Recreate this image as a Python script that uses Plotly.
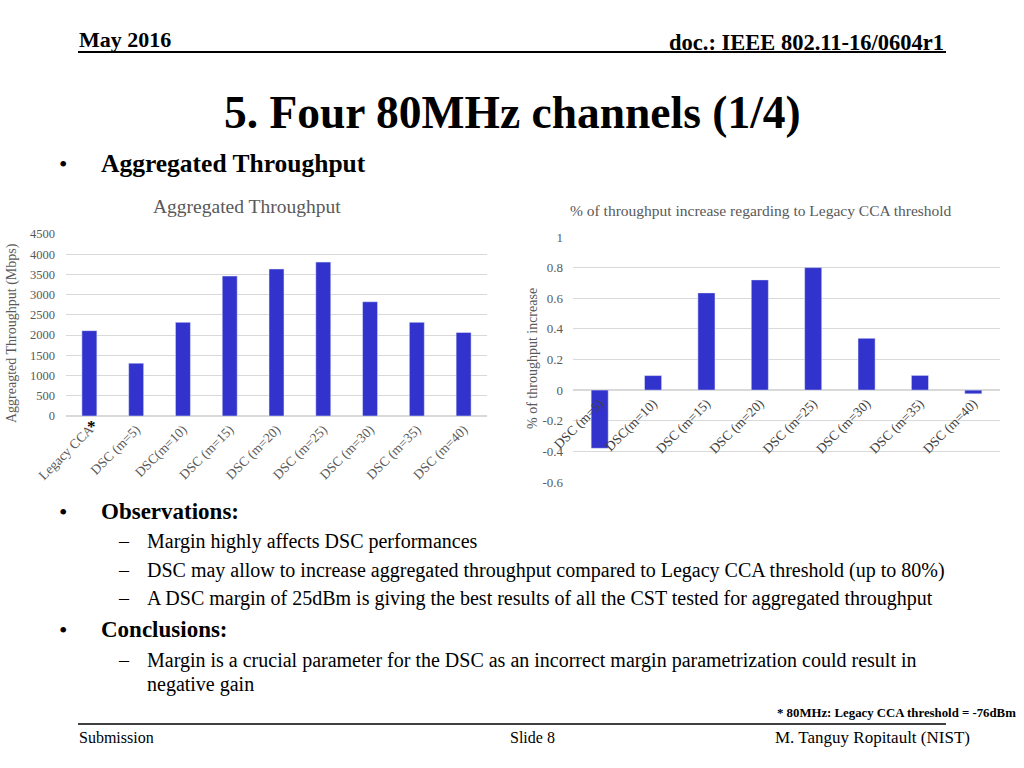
import plotly.graph_objects as go

# ---------------- data ----------------
left_categories = ["Legacy CCA", "DSC (m=5)", "DSC(m=10)", "DSC (m=15)", "DSC (m=20)",
                   "DSC (m=25)", "DSC (m=30)", "DSC (m=35)", "DSC (m=40)"]
left_values = [2110, 1305, 2315, 3460, 3635, 3805, 2825, 2315, 2065]
left_ticks = [0, 500, 1000, 1500, 2000, 2500, 3000, 3500, 4000, 4500]

right_categories = ["DSC (m=5)", "DSC(m=10)", "DSC (m=15)", "DSC (m=20)",
                    "DSC (m=25)", "DSC (m=30)", "DSC (m=35)", "DSC (m=40)"]
right_values = [-0.38, 0.095, 0.635, 0.72, 0.80, 0.338, 0.096, -0.024]
right_tickvals = [-0.6, -0.4, -0.2, 0, 0.2, 0.4, 0.6, 0.8, 1]
right_ticktext = ["-0.6", "-0.4", "-0.2", "0", "0.2", "0.4", "0.6", "0.8", "1"]

W, H = 1024, 768
SERIF = "Liberation Serif"
BAR = "#3232CC"
GRID = "#D9D9D9"
GRAY = "#595959"


def px(x):
    return x / W


def py(y):
    return 1 - y / H


fig = go.Figure()

fig.add_trace(go.Bar(x=left_categories, y=left_values, marker_color=BAR,
                     xaxis="x", yaxis="y", showlegend=False))
fig.add_trace(go.Bar(x=right_categories, y=right_values, marker_color=BAR,
                     xaxis="x2", yaxis="y2", showlegend=False))

# domains
lx0, lx1, ly_top, ly_bot = 66, 487, 234, 416
rx0, rx1, ry_top, ry_bot = 573, 1000, 237, 482
ry_dom = [py(ry_bot), py(ry_top)]
zero_pos = ry_dom[0] + (0 - (-0.6)) / (1 - (-0.6)) * (ry_dom[1] - ry_dom[0])

fig.update_layout(
    width=W, height=H,
    margin=dict(l=0, r=0, t=0, b=0, pad=0, autoexpand=False),
    paper_bgcolor="white", plot_bgcolor="white",
    bargap=0.68,
    font=dict(family=SERIF, color=GRAY),
    xaxis=dict(domain=[px(lx0), px(lx1)], anchor="y", tickangle=-45, automargin=False,
               tickfont=dict(size=13.5, color=GRAY), showline=False, ticks="",
               ticklabelstandoff=2),
    yaxis=dict(domain=[py(ly_bot), py(ly_top)], anchor="x", range=[0, 4500], automargin=False,
               tickvals=left_ticks, gridcolor=GRID, zerolinecolor=GRID,
               tickfont=dict(size=12.5, color=GRAY), ticks="", ticklabelstandoff=10),
    xaxis2=dict(domain=[px(rx0), px(rx1)], anchor="free", position=zero_pos, automargin=False,
                tickangle=-45, tickfont=dict(size=13.5, color="#404040"),
                showline=False, ticks="", ticklabelstandoff=2),
    yaxis2=dict(domain=ry_dom, anchor="x2", range=[-0.6, 1], automargin=False,
                tickvals=right_tickvals, ticktext=right_ticktext,
                gridcolor=GRID, zerolinecolor=GRID,
                tickfont=dict(size=13, color=GRAY), ticks="", ticklabelstandoff=9),
)

ann = []


def text(x, y, s, size, anchor="left", color="black", angle=0, bold=False):
    ann.append(dict(x=px(x), y=py(y), xref="paper", yref="paper",
                    text=f"<b>{s}</b>" if bold else s, showarrow=False,
                    xanchor=anchor, yanchor="middle", textangle=angle,
                    font=dict(family=SERIF, size=size, color=color)))


# header
text(77, 39, "May 2016", 22, bold=True)
text(946, 42, "doc.: IEEE 802.11-16/0604r1", 22.5, anchor="right", bold=True)
text(512, 112, "5. Four 80MHz channels (1/4)", 45.5, anchor="center", bold=True)
text(63, 164, "•", 24, anchor="center")
text(99, 163, "Aggregated Throughput", 25.5, bold=True)

# chart titles
text(247, 206, "Aggregated Throughput", 19.5, anchor="center", color=GRAY)
text(761, 211, "% of throughput increase regarding to Legacy CCA threshold", 15.5,
     anchor="center", color=GRAY)
text(12, 333, "Aggreagted Throughput (Mbps)", 14, anchor="center", color=GRAY, angle=-90)
text(532, 359, "% of throughput increase", 14, anchor="center", color=GRAY, angle=-90)
text(91, 426, "*", 17, anchor="center", bold=True)

# body
text(63, 512, "•", 24, anchor="center")
text(99, 511, "Observations:", 23, bold=True)
text(116, 541, "–", 20)
text(145, 541, "Margin highly affects DSC performances", 20)
text(116, 570, "–", 20)
text(145, 570, "DSC may allow to increase aggregated throughput compared to Legacy CCA threshold (up to 80%)", 20)
text(116, 598, "–", 20)
text(145, 598, "A DSC margin of 25dBm is giving the best results of all the CST tested for aggregated throughput", 20)
text(63, 630, "•", 24, anchor="center")
text(99, 629, "Conclusions:", 23, bold=True)
text(116, 660, "–", 20)
text(145, 660, "Margin is a crucial parameter for the DSC as an incorrect margin parametrization could result in", 20)
text(145, 684, "negative gain", 20)
text(1018, 713, "* 80MHz: Legacy CCA threshold = -76dBm", 12.8, anchor="right", bold=True)

# footer
text(77, 737, "Submission", 16)
text(532, 737, "Slide 8", 16, anchor="center")
text(972, 737, "M. Tanguy Ropitault (NIST)", 17, anchor="right")

fig.update_layout(annotations=ann)

fig.add_shape(type="line", xref="paper", yref="paper", x0=px(78), x1=px(946),
              y0=py(52), y1=py(52), line=dict(color="black", width=2))
fig.add_shape(type="line", xref="paper", yref="paper", x0=px(78), x1=px(946),
              y0=py(724), y1=py(724), line=dict(color="black", width=1.5))

fig.write_html("out.html", config={"displayModeBar": False},
               post_script="document.body.style.margin='0';")
